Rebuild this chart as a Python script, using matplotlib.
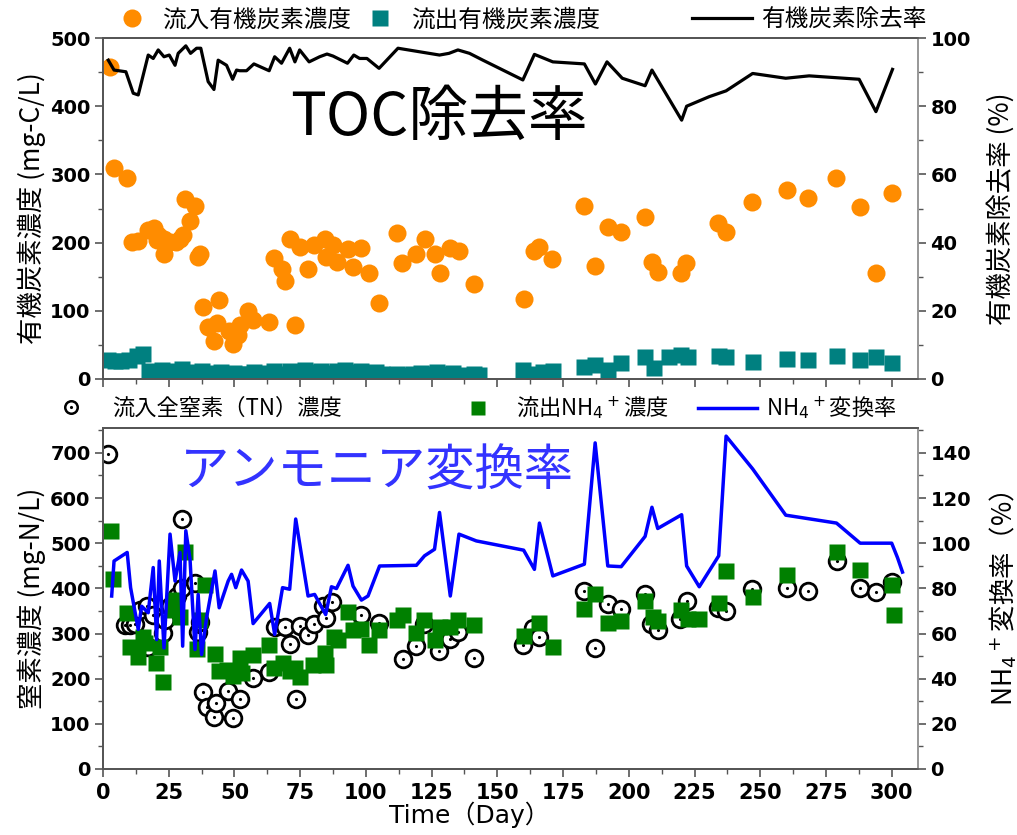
import numpy as np
import matplotlib.pyplot as plt
from matplotlib.lines import Line2D
from matplotlib.legend_handler import HandlerTuple
from matplotlib.ticker import MultipleLocator

plt.rcParams['font.family'] = ['Noto Sans CJK JP', 'DejaVu Sans']
plt.rcParams['mathtext.fontset'] = 'dejavusans'

# --- top panel: TOC ---
toc_in_day = [2.7, 4.2, 9, 10.9, 13.4, 17.2, 19.5, 20.4, 21, 23.2, 23.2, 25.5, 27.7, 29.3, 30.5, 31.2,
              33, 35, 36.2, 36.9, 38.1, 40, 42.2, 43.4, 44.2, 48, 49.3, 51.4, 52.3, 55.2, 57.1, 63.2,
              65.1, 68.1, 69.1, 71.0, 73.2, 75.1, 78.0, 80.2, 84.3, 85, 87.3, 89, 93, 95.1, 98.3, 101.1,
              105, 111.8, 113.9, 119.2, 122.3, 126.1, 128, 131.8, 135.4, 141.1, 160.1, 163.8, 166, 170.9,
              183.1, 187, 192, 197.1, 206, 208.8, 211, 219.9, 221.8, 233.8, 237, 246.8, 260, 268, 278.8,
              288, 294, 300]
toc_in = [457, 309, 295, 201, 202, 218, 222, 204, 211, 206, 183, 201, 201, 206, 211, 264,
          232, 253, 179, 184, 105, 76, 56, 82, 116, 70, 52, 64, 79, 99, 87, 84,
          178, 161, 143, 206, 79, 193, 161, 196, 205, 179, 196, 172, 191, 164, 192, 156,
          112, 214, 170, 184, 205, 184, 155, 192, 188, 140, 118, 187, 193, 176,
          253, 165, 223, 216, 238, 171, 157, 156, 170, 229, 215, 260, 277, 266, 295,
          252, 155, 273]

toc_out_day = [2, 4.5, 7, 10, 12.8, 15.3, 17.5, 20, 22.5, 25, 27.5, 30, 32.5, 35, 37.5, 40, 42.5, 45,
               47.5, 50, 52.5, 55, 57.5, 62, 65, 68, 71, 74, 77, 80, 83, 86, 89, 92, 95, 98, 101, 104,
               106, 112, 115, 118, 121, 124, 127, 130, 133, 136, 141, 143, 159.7, 164.1, 167.3, 171.1,
               183.1, 187, 192, 197.1, 206.2, 209.7, 215.2, 219.9, 222.4, 234.2, 237, 247.1, 260, 268,
               279, 288, 294, 300]
toc_out = [28, 27, 26, 28, 34, 36, 11, 10, 13, 9, 12, 14, 10, 8, 11, 9, 7, 10,
           8, 9, 7, 8, 10, 9, 12, 8, 11, 7, 13, 10, 12, 9, 11, 13, 10, 12, 9, 10,
           8, 7, 6, 8, 9, 7, 10, 8, 9, 6, 7, 6, 13, 8, 10, 11,
           17, 21, 13, 24, 32, 16, 32, 35, 32, 34, 32, 25, 30, 28,
           33, 28, 32, 23]

toc_rm_day = [2, 4.2, 8.7, 11.5, 13.4, 17.2, 19.1, 21, 23.2, 25.2, 27.4, 28.6, 31.5, 33.3, 35.6, 37.2,
              40, 42.2, 43.8, 47, 49.3, 50.8, 52, 54.6, 57.4, 63.2, 65.3, 67.9, 71, 73, 74.8, 78.4,
              82.4, 85.2, 87.5, 93, 95.4, 97.6, 100.4, 105, 112.2, 128, 131.6, 135, 139.4, 144.5,
              159.7, 164.1, 171.1, 183.1, 187.3, 191.7, 197.5, 206.2, 208.8, 220.1, 222, 230.6, 237,
              247.1, 259.7, 268.6, 287.6, 294, 300.3]
toc_rm = [93.5, 90.6, 90.1, 83.8, 83.3, 95, 94, 96.5, 94.5, 95, 92, 95.5, 97.7, 95.5, 97, 97,
          87.2, 84.9, 93.5, 92, 87.9, 90.6, 90.4, 90.4, 92.4, 90.4, 94.5, 92.6, 97, 93, 96.5, 93,
          94.5, 95.3, 94.7, 92.6, 95, 94, 94, 91.1, 97, 95, 95.5, 96.5, 95.5, 93.5,
          87.7, 95.2, 93, 92.4, 86.5, 93, 88.2, 86, 90.6, 75.9, 80, 82.8, 84.5,
          89.6, 88.2, 88.9, 87.9, 78.4, 90.8]

# --- bottom panel: nitrogen ---
tn_day = [2, 8.4, 10.3, 12, 14, 16.6, 17.2, 19.1, 22.9, 23.6, 25.5, 28, 29.9, 30.1, 35, 36.2, 36.9,
          38.1, 39.6, 42.2, 42.9, 47.6, 49.3, 52.3, 57.1, 63.1, 65.3, 69.1, 71, 73.3, 75.1, 78, 80.3,
          83.5, 84.9, 87.2, 98.3, 105, 114, 119, 122, 127.8, 132.1, 135, 141.1, 159.7, 163.5, 166,
          183.1, 187, 192, 197.1, 206, 208.5, 211, 219.6, 222, 233.8, 237, 246.8, 260, 268, 279,
          288, 294, 300]
tn_in = [698, 319, 319, 322, 352, 360, 271, 341, 301, 330, 360, 382, 400, 553, 411, 304, 326,
         171, 138, 115, 147, 173, 112, 154, 202, 215, 315, 314, 276, 154, 316, 297, 320,
         360, 334, 369, 340, 323, 243, 272, 320, 262, 287, 304, 245, 275, 312, 292,
         395, 267, 365, 354, 387, 321, 308, 332, 371, 356, 350, 398, 400, 395, 461,
         400, 391, 415]

nh4_day = [2.9, 3.9, 9.2, 10.3, 13.4, 15.3, 16, 20, 21.7, 23, 26.7, 27.4, 29.3, 31.2, 35.6, 36.9,
           38.8, 42.6, 44, 47, 49.5, 52, 52.7, 57.1, 63.2, 65, 68.5, 71, 73, 75, 79.8, 84.3, 85,
           87.8, 89.4, 93.2, 95.1, 98.3, 101.1, 105.1, 112, 114.1, 119.2, 122, 126.1, 128, 131.8,
           135, 141.1, 160.3, 166, 171.1, 183.1, 187, 192, 197.1, 206, 209.1, 211, 219.9, 222.4,
           226.8, 234.2, 237, 247.1, 260, 279, 288, 300, 300.9]
nh4_out = [526, 420, 345, 271, 247, 293, 278, 234, 271, 193, 352, 374, 337, 481, 266, 330,
           408, 255, 218, 219, 206, 245, 212, 253, 275, 223, 234, 216, 223, 204, 230, 256, 230,
           292, 286, 347, 308, 310, 274, 308, 330, 341, 301, 330, 286, 315, 315,
           330, 319, 295, 323, 271, 354, 387, 324, 328, 371, 337, 328, 351, 332,
           332, 368, 439, 380, 430, 480, 441, 408, 341]

conv_day = [3.3, 4.2, 9.2, 10.5, 13.4, 14.7, 17.2, 19.1, 20.4, 21.4, 23.2, 25.5, 27.4, 29.3, 30.3,
            31.5, 33.1, 35, 36.2, 37.5, 39.4, 42.6, 44.2, 47.6, 48.9, 50.5, 52.7, 55.2, 57.1, 63.4,
            65.3, 68.3, 71, 73.3, 78, 80.5, 84.7, 86.9, 88.8, 93.2, 95.1, 98.3, 100.8, 105.2, 119.2,
            122.3, 126.1, 128, 132.1, 135.4, 142, 160, 164.1, 166, 171.1, 183.1, 187.2, 192, 197.1,
            206.2, 208.8, 211, 220.1, 222, 226.8, 234.2, 237, 247.1, 259.7, 279, 288, 294, 300,
            302.2, 304.1]
conv = [76.6, 92.1, 95.9, 80.3, 61.8, 72.1, 69.2, 89.2, 57.3, 92.1, 53.6, 104, 83.2, 95.9, 54.4,
        105.5, 92.9, 52.9, 77.3, 50.7, 67, 87.7, 71.4, 83.2, 86.2, 80.3, 88.1, 83.2, 64.4, 73.3,
        59.6, 80.3, 79.6, 110.7, 76.6, 77.3, 68.4, 80.7, 79.9, 90.2, 81, 74.8, 76.6, 89.9, 90.2,
        94.4, 97.3, 113.6, 76.6, 104, 101, 96.9, 88.4, 108.9, 85.5, 90.7, 144.4, 89.9, 89.6,
        103, 115.9, 106.5, 112.6, 89.9, 80.7, 94.4, 147.4, 132.9, 112.4, 108.9, 100, 100, 100,
        93.6, 87.2]

ORANGE = '#ff8c00'
TEAL = '#008080'
GREEN = '#008000'
BLUE = '#0000ff'
SPINE = '#555555'

W, H = 1017, 835
fig = plt.figure(figsize=(W / 100, H / 100), dpi=100)
ax1 = fig.add_axes([103 / W, 1 - 379 / H, 815 / W, 341 / H])
ax2 = fig.add_axes([103 / W, 1 - 769 / H, 815 / W, 341 / H])
ax1r = ax1.twinx()
ax2r = ax2.twinx()

ax1.plot(toc_in_day, toc_in, 'o', color=ORANGE, ms=13, mec='none')
ax1.plot(toc_out_day, toc_out, 's', color=TEAL, ms=11, mec='none')
ax1r.plot(toc_rm_day, toc_rm, '-', color='black', lw=2.3)

ax2.plot(tn_day, tn_in, 'o', mfc='white', mec='black', mew=2.0, ms=12)
ax2.plot(tn_day, tn_in, '.', color='black', ms=2.5)
ax2.plot(nh4_day, nh4_out, 's', color=GREEN, ms=11, mec='none')
ax2r.plot(conv_day, conv, '-', color=BLUE, lw=2.5)

ax1.set_ylim(0, 500)
ax1r.set_ylim(0, 100)
ax2.set_ylim(0, 755)
ax2r.set_ylim(0, 151)

for ax in (ax1, ax2):
    ax.set_xlim(0, 310)
    ax.xaxis.set_major_locator(MultipleLocator(25))
    ax.xaxis.set_minor_locator(MultipleLocator(12.5))
for ax, ymaj in ((ax1, 100), (ax1r, 20), (ax2, 100), (ax2r, 20)):
    ax.yaxis.set_major_locator(MultipleLocator(ymaj))
    ax.yaxis.set_minor_locator(MultipleLocator(ymaj / 2))
    ax.tick_params(which='major', direction='out', length=6, width=1.2, color=SPINE,
                   labelsize=14, pad=3)
    ax.tick_params(which='minor', direction='out', length=3.5, width=1.0, color=SPINE)
    for sp in ax.spines.values():
        sp.set_color(SPINE)
        sp.set_linewidth(1.3)
    ax.spines['right'].set_color('#999999')
    for lab in ax.get_xticklabels() + ax.get_yticklabels():
        lab.set_fontfamily('DejaVu Sans')
        lab.set_fontweight('bold')

ax1.tick_params(axis='x', labelbottom=False)
for lab in ax2.get_xticklabels():
    lab.set_fontsize(15)
ax2.tick_params(axis='x', pad=4)

ax1.set_ylabel('有機炭素濃度 (mg-C/L)', fontsize=19)
ax1r.set_ylabel('有機炭素除去率 (%)', fontsize=19)
ax2.set_ylabel('窒素濃度 (mg-N/L)', fontsize=19)
ax2r.set_ylabel('NH$_4$$^+$変換率（%）', fontsize=19)
ax2.set_xlabel('Time（Day）', fontsize=18, family=['DejaVu Sans', 'Noto Sans CJK JP'])
ax2.xaxis.set_label_coords(0.45, -0.097)
ax1.yaxis.set_label_coords(-0.07, 0.5)
ax2.yaxis.set_label_coords(-0.07, 0.5)
ax1r.yaxis.set_label_coords(1.085, 0.5)
ax2r.yaxis.set_label_coords(1.085, 0.5)

ax1.text(0.229, 0.765, 'TOC除去率', transform=ax1.transAxes, fontsize=43, va='center', ha='left')
ax2.text(0.0945, 0.871, 'アンモニア変換率', transform=ax2.transAxes, fontsize=35.5, va='center',
         ha='left', color='#3333ff')


def put_legend(handle, label, x, y, hl, tp, fs):
    fig.legend([handle], [label], loc='center left', bbox_to_anchor=(x / W, 1 - y / H),
               frameon=False, borderpad=0, borderaxespad=0, handlelength=hl, handletextpad=tp,
               fontsize=fs, handler_map={tuple: HandlerTuple(ndivide=1)})


put_legend(Line2D([], [], ls='none', marker='o', color=ORANGE, ms=13, mec='none'),
           '流入有機炭素濃度', 108, 20, 2.0, 0.3, 17)
put_legend(Line2D([], [], ls='none', marker='s', color=TEAL, ms=11, mec='none'),
           '流出有機炭素濃度', 356.5, 20, 2.0, 0.3, 17)
put_legend(Line2D([], [], color='black', lw=2.3), '有機炭素除去率', 692, 20, 2.54, 0.4, 17)

tn_handle = (Line2D([], [], ls='none', marker='o', mfc='white', mec='black', mew=1.8, ms=9),
             Line2D([], [], ls='none', marker='.', color='black', ms=2.5))
put_legend(tn_handle, '流入全窒素（TN）濃度', 53, 408, 1.6, 1.05, 16)
put_legend(Line2D([], [], ls='none', marker='s', color=GREEN, ms=10, mec='none'),
           '流出NH$_4$$^+$濃度', 460, 408, 1.6, 0.92, 16)
put_legend(Line2D([], [], color=BLUE, lw=2.5), 'NH$_4$$^+$変換率', 698, 408, 2.66, 0.4, 16)

fig.savefig('out.png', dpi=100)
